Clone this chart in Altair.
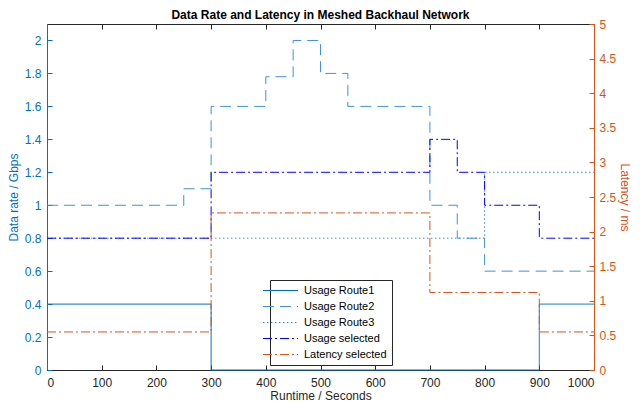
import altair as alt
import pandas as pd

series_names = ["Usage Route1", "Usage Route2", "Usage Route3", "Usage selected", "Latency selected"]

route1_t = [0, 300, 900, 1000]
route1_v = [0.4, 0.0, 0.4, 0.4]

route2_t = [0, 250, 300, 400, 450, 500, 550, 700, 750, 800, 1000]
route2_v = [1.0, 1.1, 1.6, 1.78, 2.0, 1.8, 1.6, 1.0, 0.8, 0.6, 0.6]

route3_t = [0, 800, 1000]
route3_v = [0.8, 1.2, 1.2]

selected_t = [0, 300, 700, 750, 800, 900, 1000]
selected_v = [0.8, 1.2, 1.4, 1.2, 1.0, 0.8, 0.8]

latency_t = [0, 300, 700, 900, 1000]
latency_v = [0.55, 2.27, 1.12, 0.55, 0.55]

x_ticks = list(range(0, 1001, 100))
left_ticks = [0, 0.2, 0.4, 0.6, 0.8, 1.0, 1.2, 1.4, 1.6, 1.8, 2.0]
right_ticks = [0, 0.5, 1, 1.5, 2, 2.5, 3, 3.5, 4, 4.5, 5]

rows = []
for name, ts, vs in [
    ("Usage Route1", route1_t, route1_v),
    ("Usage Route2", route2_t, route2_v),
    ("Usage Route3", route3_t, route3_v),
    ("Usage selected", selected_t, selected_v),
]:
    for t, v in zip(ts, vs):
        rows.append({"t": t, "v": v, "series": name})
usage_df = pd.DataFrame(rows)
lat_df = pd.DataFrame({"t": latency_t, "v": latency_v, "series": "Latency selected"})

BLUE = "#0072BD"
ORANGE = "#D95319"
DARK = "#262626"
FONT = "Liberation Sans"

color_scale = alt.Scale(domain=series_names,
                        range=[BLUE, "#3f93d3", "#3a90d2", "#0000ff", ORANGE])
dash_scale = alt.Scale(domain=series_names,
                       range=[[1, 0], [11, 6], [1.5, 2.5], [9, 3, 2, 3], [9, 3, 2, 3]])
width_scale = alt.Scale(domain=series_names, range=[1, 1, 1.2, 1.9, 2.2])

legend = alt.Legend(title=None, orient="none", legendX=223, legendY=256,
                    fillColor="white", strokeColor=DARK, padding=5,
                    labelFont=FONT, labelFontSize=11, labelColor="black",
                    symbolType="M-3.5,0H3.5", symbolSize=100, labelOffset=18,
                    rowPadding=4, offset=0)

tick_in = {"expr": "-5"}

x_bottom = alt.X("t:Q", scale=alt.Scale(domain=[0, 1000], nice=False),
                 axis=alt.Axis(orient="bottom", values=x_ticks, format="d",
                               title="Runtime / Seconds",
                               tickSize=tick_in, labelPadding=12, grid=False,
                               domainColor=DARK, tickColor=DARK, labelColor=DARK,
                               titleColor=DARK, labelFont=FONT, labelFontSize=12,
                               titleFont=FONT, titleFontSize=12, titleFontWeight="normal",
                               titlePadding=2))
x_top = alt.X("t:Q", scale=alt.Scale(domain=[0, 1000], nice=False),
              axis=alt.Axis(orient="top", values=x_ticks, title=None, labels=False,
                            tickSize=tick_in, grid=False, domainColor=DARK, tickColor=DARK))

usage = alt.Chart(usage_df).mark_line(interpolate="step-after").encode(
    x=x_bottom,
    y=alt.Y("v:Q", scale=alt.Scale(domain=[0, 2.1], nice=False),
            axis=alt.Axis(orient="left", values=left_ticks, format="~g",
                          title="Data rate / Gbps", tickSize=tick_in, labelPadding=11,
                          grid=False, domainColor=BLUE, tickColor=BLUE, labelColor=BLUE,
                          titleColor=BLUE, labelFont=FONT, labelFontSize=12,
                          titleFont=FONT, titleFontSize=12, titleFontWeight="normal",
                          titlePadding=4)),
    color=alt.Color("series:N", scale=color_scale, legend=legend),
    strokeDash=alt.StrokeDash("series:N", scale=dash_scale, legend=legend),
    strokeWidth=alt.StrokeWidth("series:N", scale=width_scale, legend=legend),
)

latency = alt.Chart(lat_df).mark_line(interpolate="step-after").encode(
    x=x_top,
    y=alt.Y("v:Q", scale=alt.Scale(domain=[0, 5], nice=False),
            axis=alt.Axis(orient="right", values=right_ticks, format="~g",
                          title="Latency / ms", tickSize=tick_in, labelPadding=10,
                          grid=False, domainColor=ORANGE, tickColor=ORANGE,
                          labelColor=ORANGE, titleColor=ORANGE, labelFont=FONT,
                          labelFontSize=12, titleFont=FONT, titleFontSize=12,
                          titleFontWeight="normal", titlePadding=2)),
    color=alt.Color("series:N", scale=color_scale, legend=legend),
    strokeDash=alt.StrokeDash("series:N", scale=dash_scale, legend=legend),
    strokeWidth=alt.StrokeWidth("series:N", scale=width_scale, legend=legend),
)

chart = alt.layer(usage, latency).resolve_scale(
    y="independent"
).resolve_axis(
    x="independent", y="independent"
).properties(
    width=547, height=346,
    autosize=alt.AutoSizeParams(type="none"),
    padding={"left": 39, "top": 16, "right": 40, "bottom": 32},
    title=alt.TitleParams("Data Rate and Latency in Meshed Backhaul Network",
                          font=FONT, fontSize=12, fontWeight="bold", color="black",
                          anchor="middle", offset={"expr": "-4"}),
    background="white",
).configure_view(stroke=None)

chart.save("out.html", embed_options={"renderer": "svg", "actions": False})
